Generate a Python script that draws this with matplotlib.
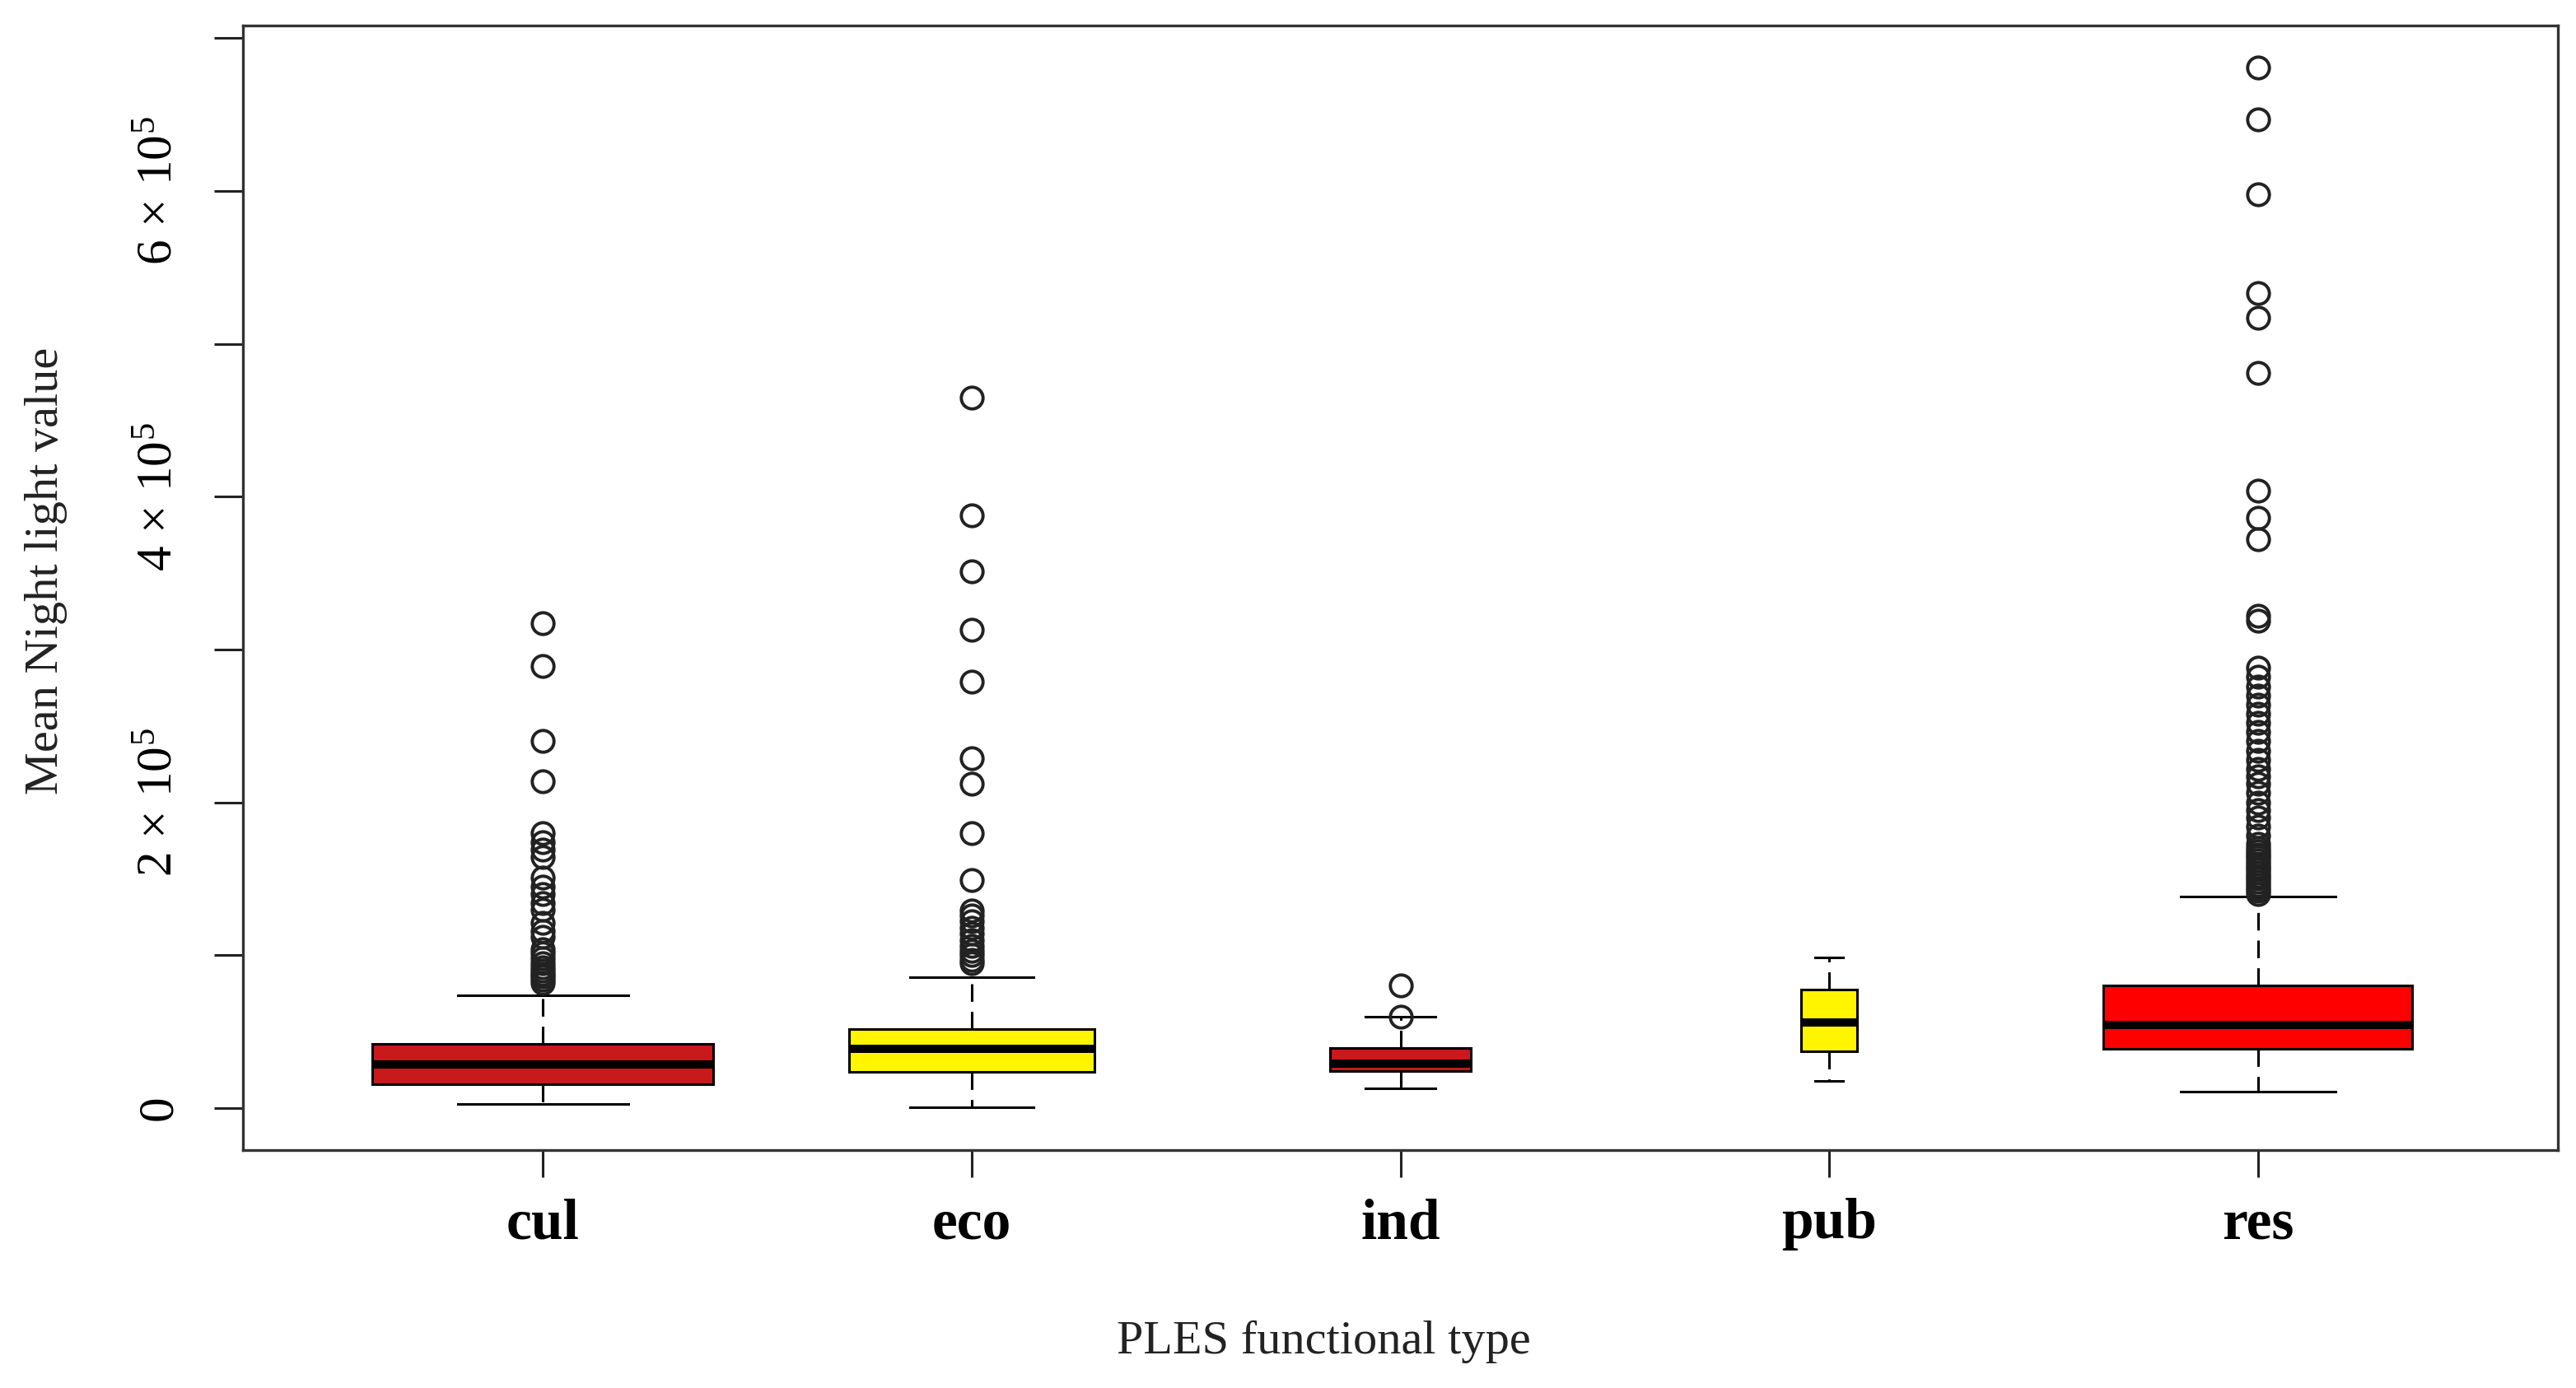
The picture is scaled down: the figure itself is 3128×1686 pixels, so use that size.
import matplotlib.pyplot as plt

plt.rcParams['font.family'] = ['Liberation Serif', 'DejaVu Serif']
plt.rcParams['mathtext.fontset'] = 'custom'
plt.rcParams['mathtext.rm'] = 'Liberation Serif'
plt.rcParams['mathtext.it'] = 'Liberation Serif:italic'
plt.rcParams['mathtext.bf'] = 'Liberation Serif:bold'

# box statistics (mean night light value)
types = ['cul', 'eco', 'ind', 'pub', 'res']
q1 = [15800, 23900, 24200, 37000, 38800]
med = [28500, 38500, 29000, 56200, 54400]
q3 = [42200, 51800, 39500, 77700, 80000]
whis_lo = [2500, 500, 13000, 17600, 10800]
whis_hi = [73700, 85800, 59500, 98400, 138400]

fliers_cul = [82000, 84000, 86000, 88000, 90000, 92000, 95000, 98000, 101000, 104000,
              112000, 116000, 121000, 130000, 134000, 140000, 145000, 151000,
              164000, 169000, 174000, 180000, 214000, 240000, 289000, 317000]
fliers_eco = [95000, 97000, 100000, 103000, 106000, 110000, 114000, 118000, 122000,
              126000, 129000, 149000, 180000, 212000, 229000, 279000, 313000,
              351000, 388000, 465000]
fliers_ind = [60000, 80000]
fliers_pub = []
fliers_res = [140000, 142000, 144000, 146000, 148000, 150000, 152000, 154000, 156000,
              158000, 160000, 162000, 164000, 166000, 168000, 170000, 173000,
              178000, 184000, 190000, 195000, 200000, 206000, 212000, 217000, 222000,
              228000, 234000, 240000, 246000, 252000, 258000, 264000, 270000, 276000,
              282000, 288000, 319000, 322000, 372000, 386000, 404000, 481000, 517000,
              533000, 598000, 647000, 681000]
fliers = [fliers_cul, fliers_eco, fliers_ind, fliers_pub, fliers_res]

box_colors = ['#c8191b', '#fff500', '#c8191b', '#fff500', '#ff0000']
box_widths = [0.795, 0.573, 0.33, 0.132, 0.721]

ytick_vals = [0, 100000, 200000, 300000, 400000, 500000, 600000, 700000]
ytick_labels = ['0', '', r'$2\,\times\,10^{5}$', '', r'$4\,\times\,10^{5}$', '',
                r'$6\,\times\,10^{5}$', '']

stats = []
for i in range(len(types)):
    stats.append(dict(label=types[i], q1=q1[i], med=med[i], q3=q3[i],
                      whislo=whis_lo[i], whishi=whis_hi[i], fliers=fliers[i]))

fig = plt.figure(figsize=(15.64, 8.43), dpi=200)
ax = fig.add_axes([0.0943, 0.1714, 0.8987, 0.8105])

art = ax.bxp(stats, positions=range(1, 6), widths=box_widths, patch_artist=True,
             manage_ticks=False,
             boxprops=dict(edgecolor='black', linewidth=1.1),
             medianprops=dict(color='black', linewidth=3.6, solid_capstyle='butt'),
             whiskerprops=dict(color='black', linewidth=1.1, linestyle=(0, (7, 4))),
             capprops=dict(color='black', linewidth=1.1),
             flierprops=dict(marker='o', markerfacecolor='none', markeredgecolor='#222222',
                             markersize=9.5, markeredgewidth=1.4))
for patch, c in zip(art['boxes'], box_colors):
    patch.set_facecolor(c)

ax.set_xlim(0.3, 5.7)
ax.set_ylim(-27500, 708500)

ax.set_xticks(range(1, 6))
ax.set_xticklabels(types, fontsize=25, fontweight='bold')
ax.tick_params(axis='x', length=12, width=1.1, pad=9, direction='out', color='#222222')
ax.set_yticks(ytick_vals)
ax.set_yticklabels(ytick_labels, rotation=90, va='center', fontsize=22)
ax.tick_params(axis='y', length=12.5, width=1.1, pad=14, direction='out', color='#222222')

ax.set_xlabel('PLES functional type', fontsize=21, va='center', color='#222222')
ax.xaxis.set_label_coords(0.467, -0.1705)
ax.set_ylabel('Mean Night light value', fontsize=21, va='center', color='#222222')
ax.yaxis.set_label_coords(-0.085, 0.515)

for sp in ax.spines.values():
    sp.set_linewidth(1.2)
    sp.set_color('#333333')

fig.savefig('out.png', dpi=200)
